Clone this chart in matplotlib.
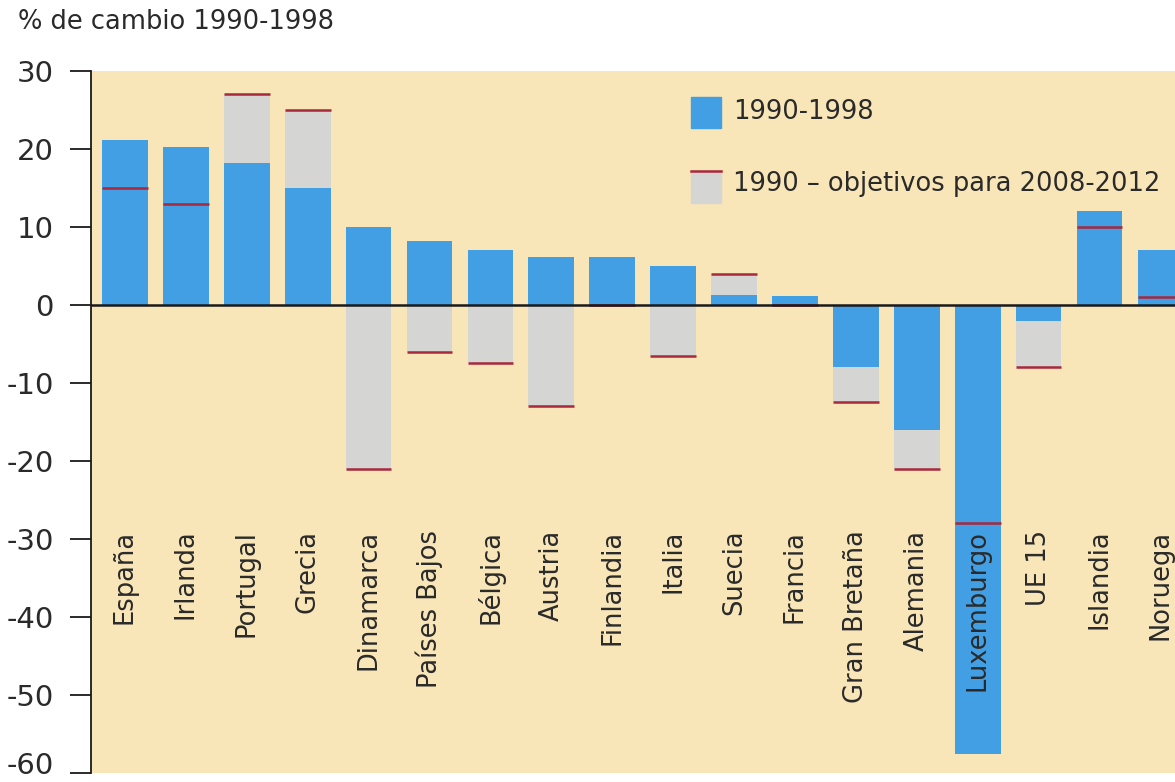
import matplotlib
matplotlib.use('Agg')
import matplotlib.pyplot as plt
from matplotlib.patches import Rectangle
from matplotlib.lines import Line2D
from matplotlib.transforms import ScaledTranslation

plt.rcParams['font.family'] = ['DejaVu Sans']

paises = ['España', 'Irlanda', 'Portugal', 'Grecia', 'Dinamarca', 'Países Bajos',
          'Bélgica', 'Austria', 'Finlandia', 'Italia', 'Suecia', 'Francia',
          'Gran Bretaña', 'Alemania', 'Luxemburgo', 'UE 15', 'Islandia', 'Noruega']
cambio_90_98 = [21.1, 20.2, 18.2, 15.0, 10.0, 8.2, 7.0, 6.2, 6.2, 5.0, 1.3, 1.2,
                -8.0, -16.0, -57.6, -2.0, 12.0, 7.0]
objetivo = [15, 13, 27, 25, -21, -6, -7.5, -13, 0, -6.5, 4, 0,
            -12.5, -21, -28, -8, 10, 1]
yticks = [30, 20, 10, 0, -10, -20, -30, -40, -50, -60]

azul = '#429fe3'
gris = '#d5d5d3'
rojo = '#a8283c'
fondo = '#f8e6b8'
texto = '#2a2a2a'

W, H = 1175, 782
fig = plt.figure(figsize=(W / 100, H / 100), dpi=100)
ax = fig.add_axes([91 / W, 1 - 773 / H, (W - 91) / W, 702 / H])
ax.set_facecolor(fondo)

x = list(range(len(paises)))
ancho = 0.75
ax.bar(x, objetivo, width=ancho, color=gris, zorder=2)
ax.bar(x, cambio_90_98, width=ancho, color=azul, zorder=3)
ax.hlines(objetivo, [i - ancho / 2 for i in x], [i + ancho / 2 for i in x],
          colors=rojo, lw=1.8, zorder=4)
ax.axhline(0, color='#1a1a1a', lw=1.8, zorder=5)

for i, p in enumerate(paises):
    ax.text(i, -28.8, p, rotation=90, ha='center', va='top',
            fontsize=18.5, color=texto, zorder=6)

ax.set_xlim(-0.558, 17.24)
ax.set_ylim(-60, 30)
ax.set_xticks([])
ax.set_yticks(yticks)
ax.set_yticklabels([str(v) for v in yticks], fontsize=21, color=texto)
ax.tick_params(axis='y', length=15, width=1.3, pad=12, color='#1a1a1a')
# -60 sits at the very bottom edge, lift it a little so it is not cut
lab = ax.get_yticklabels()[-1]
lab.set_transform(lab.get_transform() + ScaledTranslation(0, 7 / 72, fig.dpi_scale_trans))
for s in ['top', 'right', 'bottom']:
    ax.spines[s].set_visible(False)
ax.spines['left'].set_color('#1a1a1a')
ax.spines['left'].set_linewidth(1.3)

fig.text(18 / W, 1 - 22 / H, '% de cambio 1990-1998', fontsize=18.5,
         color=texto, ha='left', va='center')

# leyenda
tf = fig.transFigure
fig.patches.append(Rectangle((691 / W, 1 - 128 / H), 30 / W, 31 / H,
                             color=azul, transform=tf, figure=fig))
fig.patches.append(Rectangle((691 / W, 1 - 203 / H), 30 / W, 32 / H,
                             color=gris, transform=tf, figure=fig))
fig.lines.append(Line2D([691 / W, 721 / W], [1 - 171 / H, 1 - 171 / H],
                        color=rojo, lw=1.8, transform=tf, figure=fig))
fig.text(733 / W, 1 - 112 / H, '1990-1998', fontsize=18.5, color=texto,
         ha='left', va='center')
fig.text(733 / W, 1 - 184 / H, '1990 – objetivos para 2008-2012', fontsize=18.5,
         color=texto, ha='left', va='center')

fig.savefig('out.png', dpi=100, facecolor='white')
